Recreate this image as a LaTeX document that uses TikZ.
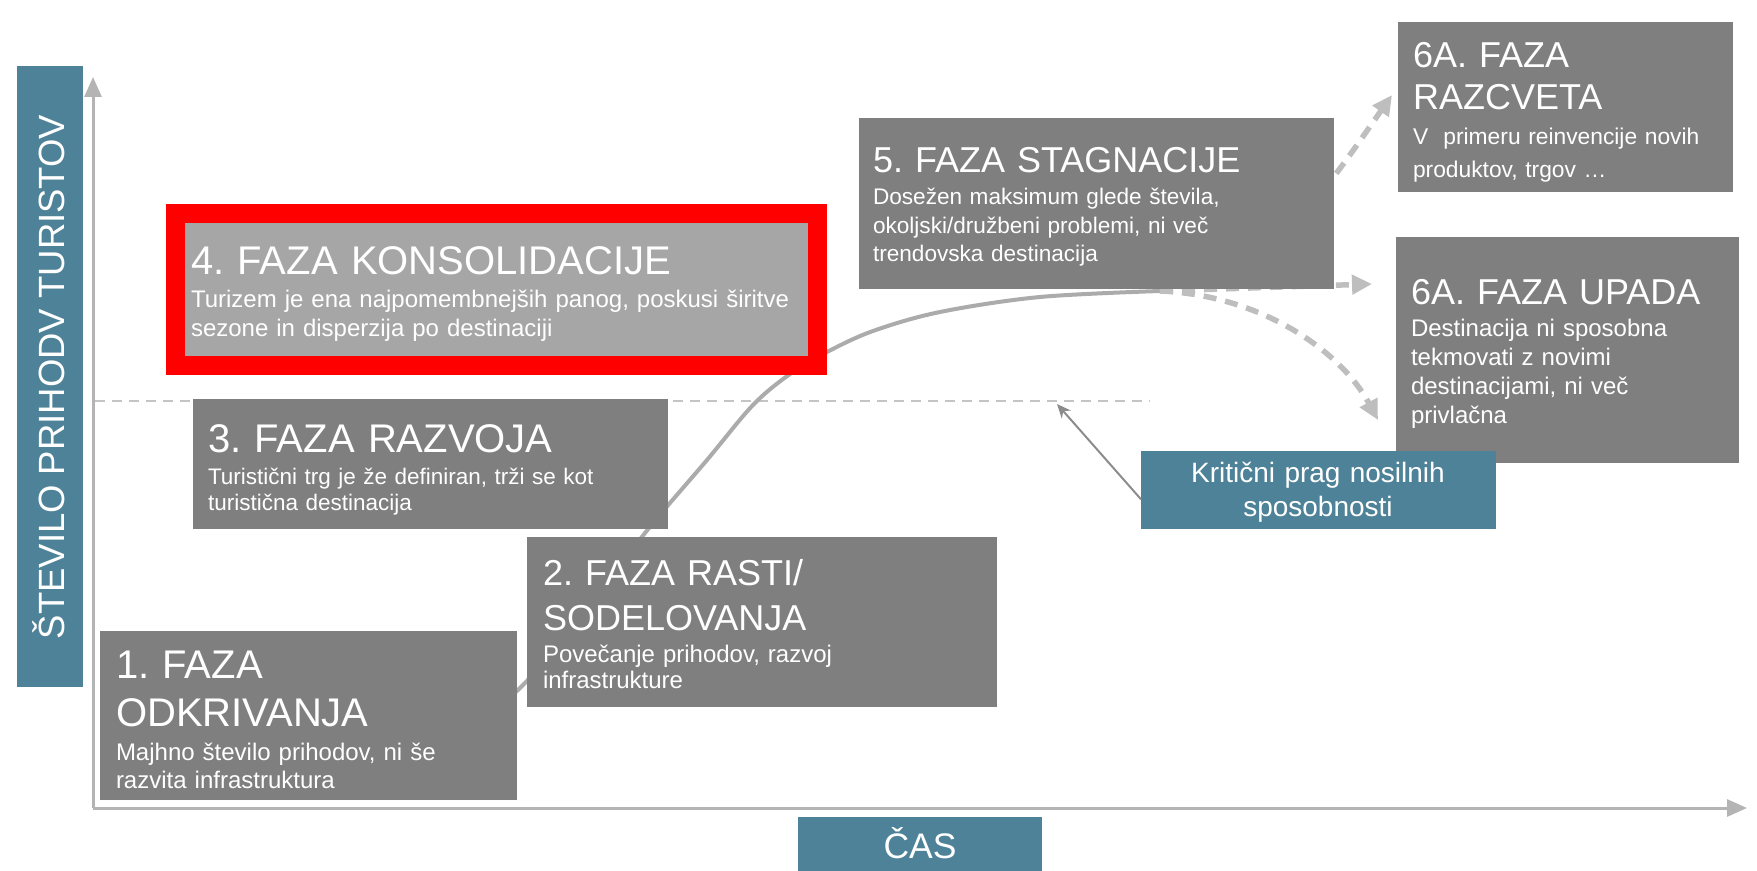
\documentclass[tikz,border=0pt]{standalone}
\usepackage{fontspec}
\setmainfont{Liberation Sans}
\usetikzlibrary{arrows.meta,fit}
\definecolor{boxgray}{HTML}{7F7F7F}
\definecolor{lightbox}{HTML}{A6A6A6}
\definecolor{tealbox}{HTML}{4E8298}
\definecolor{axisgray}{HTML}{B4B4B4}
\definecolor{curvegray}{HTML}{ABABAB}
\definecolor{dashgray}{HTML}{BEBEBE}
\definecolor{thrgray}{HTML}{C4C4C4}
\definecolor{pointgray}{HTML}{8C8C8C}
\frenchspacing
\begin{document}
\frenchspacing
\begin{tikzpicture}[x=0.5pt,y=-0.5pt,
  pbox/.style={fit={#1}, inner sep=0pt, outer sep=0pt, fill=boxgray},
  tbox/.style={fit={#1}, inner sep=0pt, outer sep=0pt, fill=tealbox},
  txt/.style={anchor=base west, inner sep=0pt, outer sep=0pt, text=white, align=left, text width=330pt},
  axisline/.style={draw=axisgray, line width=1.5pt, -{Triangle[length=10pt,width=8.5pt]}},
  curveline/.style={draw=curvegray, line width=2pt},
  dasharrow/.style={draw=dashgray, line width=2.75pt, dash pattern=on 6.5pt off 4.5pt, -{Triangle[length=10pt,width=9.5pt]}},
  threshold/.style={draw=thrgray, line width=1.25pt, dash pattern=on 5pt off 3.5pt},
  pointer/.style={draw=pointgray, line width=1pt, -{Stealth[length=7pt,width=6pt]}}]
\useasboundingbox (0,0) rectangle (1757,871);

% axes
\coordinate (origin) at (93,808);
\coordinate (ytip) at (93,77);
\coordinate (xtip) at (1747,808);
\draw[axisline] (origin) -- (ytip);
\draw[axisline] (origin) -- (xtip);

% threshold line
\coordinate (thrL) at (95,401);
\coordinate (thrR) at (1150,401);
\draw[threshold] (thrL) -- (thrR);

% life cycle curve
\coordinate (c5) at (1160,291);
\draw[curveline] plot[smooth, tension=0.55] coordinates {(120,792) (260,782) (400,758) (470,726) (520,688) (585,613) (645,533) (707,460) (753,405) (790,374) (827,352) (873,331) (940,312) (1040,297) (1160,291)};

% dashed continuations
\coordinate (upTip) at (1392,95);
\coordinate (midTip) at (1372,284);
\coordinate (downTip) at (1378,420);
\draw[dasharrow] (c5) .. controls (1260,290) and (1322,195) .. (upTip);
\draw[dasharrow] (c5) -- (midTip);
\draw[dasharrow] (c5) .. controls (1260,295) and (1340,350) .. (downTip);

% boxes
\node[tbox={(17,66) (83,687)}] (ylab) {};
\node[tbox={(798,817) (1042,871)}] (cas) {};
\node[pbox={(100,631) (517,800)}] (b1) {};
\node[pbox={(527,537) (997,707)}] (b2) {};
\node[pbox={(193,399) (668,529)}] (b3) {};
\node[fit={(166,204) (827,375)}, inner sep=0pt, fill=red] (b4frame) {};
\node[fit={(185,223) (808,356)}, inner sep=0pt, fill=lightbox] (b4) {};
\node[pbox={(859,118) (1334,289)}] (b5) {};
\node[pbox={(1398,22) (1733,192)}] (b6a) {};
\node[pbox={(1396,237) (1739,463)}] (b6b) {};
\node[tbox={(1141,451) (1496,529)}] (krit) {};

% pointer from threshold label
\coordinate (thrPt) at (1057,404);
\draw[pointer] (krit.183) -- (thrPt);

% texts
\node[anchor=base, rotate=90, inner sep=0pt, text=white, font=\fontsize{18.25}{20}\selectfont] (ylabt) at (64,377) {ŠTEVILO PRIHODV TURISTOV};
\node[anchor=base, inner sep=0pt, text=white, font=\fontsize{17.75}{20}\selectfont] (cast) at (920,858) {ČAS};

\node[txt, font=\fontsize{20}{24}\selectfont] (t1) at (116,678) {1. FAZA\\ODKRIVANJA};
\node[txt, font=\fontsize{12}{14}\selectfont] (d1) at (116,760) {Majhno število prihodov, ni še\\razvita infrastruktura};

\node[txt, font=\fontsize{18}{22.5}\selectfont] (t2) at (543,585) {2. FAZA RASTI/\\SODELOVANJA};
\node[txt, font=\fontsize{12}{13}\selectfont] (d2) at (543,662) {Povečanje prihodov, razvoj\\infrastrukture};

\node[txt, font=\fontsize{20}{24}\selectfont] (t3) at (208,453) {3. FAZA RAZVOJA};
\node[txt, font=\fontsize{11.25}{12.75}\selectfont] (d3) at (208,485) {Turistični trg je že definiran, trži se kot\\turistična destinacija};

\node[txt, font=\fontsize{20}{24}\selectfont] (t4) at (191,275) {4. FAZA KONSOLIDACIJE};
\node[txt, font=\fontsize{12}{14.5}\selectfont] (d4) at (191,308) {Turizem je ena najpomembnejših panog, poskusi širitve\\sezone in disperzija po destinaciji};

\node[txt, font=\fontsize{18}{21.5}\selectfont] (t5) at (873,173) {5. FAZA STAGNACIJE};
\node[txt, font=\fontsize{11.3}{14.25}\selectfont] (d5) at (873,205) {Dosežen maksimum glede števila,\\okoljski/družbeni problemi, ni več\\trendovska destinacija};

\node[txt, font=\fontsize{18}{21}\selectfont] (t6a) at (1413,68) {6A. FAZA\\RAZCVETA};
\node[txt, font=\fontsize{11.4}{16.5}\selectfont] (d6a) at (1413,145) {V\ \ primeru reinvencije novih\\produktov, trgov …};

\node[txt, font=\fontsize{18}{21.5}\selectfont] (t6b) at (1411,305) {6A. FAZA UPADA};
\node[txt, font=\fontsize{12}{14.35}\selectfont] (d6b) at (1411,337) {Destinacija ni sposobna\\tekmovati z novimi\\destinacijami, ni več\\privlačna};

\node[anchor=base, inner sep=0pt, text=white, align=center, text width=170pt, font=\fontsize{14}{17}\selectfont] (kritt) at (1318,483) {Kritični prag nosilnih\\sposobnosti};
\end{tikzpicture}
\end{document}
